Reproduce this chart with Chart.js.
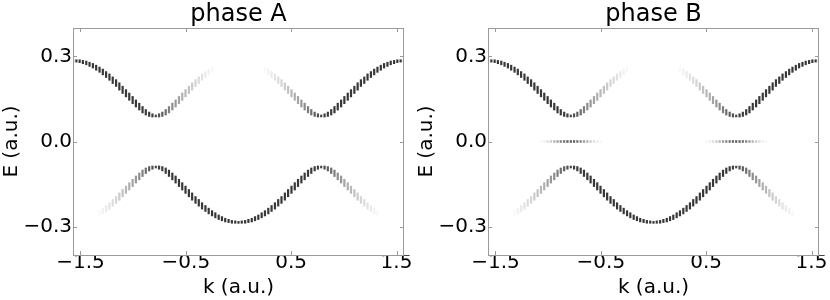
<!DOCTYPE html>
<html>
<head>
<meta charset="utf-8">
<script src="https://cdn.jsdelivr.net/npm/chart.js@4.4.0/dist/chart.umd.min.js"></script>
<style>
  body { margin: 0; background: #fff; }
  .row { display: flex; width: 830px; height: 300px; }
  .panel { position: relative; width: 415px; height: 300px; }
</style>
</head>
<body>
<div class="row">
  <div class="panel"><canvas id="chartA"></canvas></div>
  <div class="panel"><canvas id="chartB"></canvas></div>
</div>
<script>
// momentum samples (a.u.)
const kValues = [
  -1.571, -1.539, -1.508, -1.477, -1.445, -1.414, -1.382, -1.351, -1.319, -1.288,
  -1.257, -1.225, -1.194, -1.162, -1.131, -1.100, -1.068, -1.037, -1.005, -0.974,
  -0.942, -0.911, -0.880, -0.848, -0.817, -0.785, -0.754, -0.723, -0.691, -0.660,
  -0.628, -0.597, -0.565, -0.534, -0.503, -0.471, -0.440, -0.408, -0.377, -0.346,
  -0.314, -0.283, -0.251, -0.220, -0.188, -0.157, -0.126, -0.094, -0.063, -0.031,
  0.000,
  0.031, 0.063, 0.094, 0.126, 0.157, 0.188, 0.220, 0.251, 0.283, 0.314,
  0.346, 0.377, 0.408, 0.440, 0.471, 0.503, 0.534, 0.565, 0.597, 0.628,
  0.660, 0.691, 0.723, 0.754, 0.785, 0.817, 0.848, 0.880, 0.911, 0.942,
  0.974, 1.005, 1.037, 1.068, 1.100, 1.131, 1.162, 1.194, 1.225, 1.257,
  1.288, 1.319, 1.351, 1.382, 1.414, 1.445, 1.477, 1.508, 1.539, 1.571
];

// upper band energy
const upperEnergy = [
  0.285, 0.284, 0.283, 0.280, 0.277, 0.272, 0.267, 0.260, 0.253, 0.245,
  0.236, 0.227, 0.216, 0.206, 0.194, 0.182, 0.170, 0.158, 0.146, 0.134,
  0.123, 0.112, 0.103, 0.096, 0.092, 0.090, 0.092, 0.096, 0.103, 0.112,
  0.123, 0.134, 0.146, 0.158, 0.170, 0.182, 0.194, 0.206, 0.216, 0.227,
  0.236, 0.245, 0.253, 0.260, 0.267, 0.272, 0.277, 0.280, 0.283, 0.284,
  0.285,
  0.284, 0.283, 0.280, 0.277, 0.272, 0.267, 0.260, 0.253, 0.245, 0.236,
  0.227, 0.216, 0.206, 0.194, 0.182, 0.170, 0.158, 0.146, 0.134, 0.123,
  0.112, 0.103, 0.096, 0.092, 0.090, 0.092, 0.096, 0.103, 0.112, 0.123,
  0.134, 0.146, 0.158, 0.170, 0.182, 0.194, 0.206, 0.216, 0.227, 0.236,
  0.245, 0.253, 0.260, 0.267, 0.272, 0.277, 0.280, 0.283, 0.284, 0.285
];

// lower band energy
const lowerEnergy = [
  -0.285, -0.284, -0.283, -0.280, -0.277, -0.272, -0.267, -0.260, -0.253, -0.245,
  -0.236, -0.227, -0.216, -0.206, -0.194, -0.182, -0.170, -0.158, -0.146, -0.134,
  -0.123, -0.112, -0.103, -0.096, -0.092, -0.090, -0.092, -0.096, -0.103, -0.112,
  -0.123, -0.134, -0.146, -0.158, -0.170, -0.182, -0.194, -0.206, -0.216, -0.227,
  -0.236, -0.245, -0.253, -0.260, -0.267, -0.272, -0.277, -0.280, -0.283, -0.284,
  -0.285,
  -0.284, -0.283, -0.280, -0.277, -0.272, -0.267, -0.260, -0.253, -0.245, -0.236,
  -0.227, -0.216, -0.206, -0.194, -0.182, -0.170, -0.158, -0.146, -0.134, -0.123,
  -0.112, -0.103, -0.096, -0.092, -0.090, -0.092, -0.096, -0.103, -0.112, -0.123,
  -0.134, -0.146, -0.158, -0.170, -0.182, -0.194, -0.206, -0.216, -0.227, -0.236,
  -0.245, -0.253, -0.260, -0.267, -0.272, -0.277, -0.280, -0.283, -0.284, -0.285
];

// spectral weight (0..1) of each band
const upperWeight = [
  0.85, 0.85, 0.85, 0.85, 0.85, 0.85, 0.85, 0.85, 0.85, 0.85,
  0.85, 0.85, 0.85, 0.85, 0.85, 0.85, 0.85, 0.85, 0.85, 0.85,
  0.85, 0.85, 0.84, 0.83, 0.81, 0.78, 0.74, 0.69, 0.62, 0.55,
  0.49, 0.44, 0.39, 0.34, 0.30, 0.26, 0.22, 0.18, 0.15, 0.12,
  0.09, 0.06, 0.03, 0, 0, 0, 0, 0, 0, 0,
  0,
  0, 0, 0, 0, 0, 0, 0, 0.03, 0.06, 0.09,
  0.12, 0.15, 0.18, 0.22, 0.26, 0.30, 0.34, 0.39, 0.44, 0.49,
  0.55, 0.62, 0.69, 0.74, 0.78, 0.81, 0.83, 0.84, 0.85, 0.85,
  0.85, 0.85, 0.85, 0.85, 0.85, 0.85, 0.85, 0.85, 0.85, 0.85,
  0.85, 0.85, 0.85, 0.85, 0.85, 0.85, 0.85, 0.85, 0.85, 0.85
];

const lowerWeight = [
  0, 0, 0, 0, 0, 0, 0, 0, 0.03, 0.06,
  0.09, 0.12, 0.15, 0.18, 0.22, 0.26, 0.30, 0.34, 0.39, 0.44,
  0.49, 0.55, 0.62, 0.69, 0.74, 0.78, 0.81, 0.83, 0.84, 0.85,
  0.85, 0.85, 0.85, 0.85, 0.85, 0.85, 0.85, 0.85, 0.85, 0.85,
  0.85, 0.85, 0.85, 0.85, 0.85, 0.85, 0.85, 0.85, 0.85, 0.85,
  0.85,
  0.85, 0.85, 0.85, 0.85, 0.85, 0.85, 0.85, 0.85, 0.85, 0.85,
  0.85, 0.85, 0.85, 0.85, 0.85, 0.85, 0.85, 0.85, 0.85, 0.85,
  0.85, 0.84, 0.83, 0.81, 0.78, 0.74, 0.69, 0.62, 0.55, 0.49,
  0.44, 0.39, 0.34, 0.30, 0.26, 0.22, 0.18, 0.15, 0.12, 0.09,
  0.06, 0.03, 0, 0, 0, 0, 0, 0, 0, 0
];

// phase B: zero-energy states
const zeroK = [
  -1.068, -1.037, -1.005, -0.974, -0.942, -0.911, -0.880, -0.848, -0.817, -0.785,
  -0.754, -0.723, -0.691, -0.660, -0.628, -0.597, -0.565, -0.534, -0.503,
  0.503, 0.534, 0.565, 0.597, 0.628, 0.660, 0.691, 0.723, 0.754, 0.785,
  0.817, 0.848, 0.880, 0.911, 0.942, 0.974, 1.005, 1.037, 1.068
];
const zeroEnergy = [
  0, 0, 0, 0, 0, 0, 0, 0, 0, 0, 0, 0, 0, 0, 0, 0, 0, 0, 0,
  0, 0, 0, 0, 0, 0, 0, 0, 0, 0, 0, 0, 0, 0, 0, 0, 0, 0, 0
];
const zeroWeight = [
  0.04, 0.08, 0.14, 0.22, 0.32, 0.42, 0.52, 0.60, 0.66, 0.68,
  0.66, 0.60, 0.52, 0.42, 0.32, 0.22, 0.14, 0.08, 0.04,
  0.04, 0.08, 0.14, 0.22, 0.32, 0.42, 0.52, 0.60, 0.66, 0.68,
  0.66, 0.60, 0.52, 0.42, 0.32, 0.22, 0.14, 0.08, 0.04
];

const kTicks = [-1.5, -0.5, 0.5, 1.5];
const eTicks = [-0.3, 0.0, 0.3];
const kMin = kValues[0];
const kMax = kValues[kValues.length - 1];
const eMin = -0.4;
const eMax = 0.4;

Chart.defaults.font.family = "'DejaVu Sans', sans-serif";
Chart.defaults.color = "#000";

function toPoints(ks, es, ws) {
  return ks.map((k, i) => ({ x: k, y: es[i], w: ws[i] }));
}

// taller marks where the band is steep
function blobRadius(ctx) {
  const data = ctx.dataset.data;
  const i = ctx.dataIndex;
  const a = data[Math.max(i - 1, 0)];
  const b = data[Math.min(i + 1, data.length - 1)];
  if (!a || !b || a.x === b.x) return 1.3;
  const slope = Math.abs((b.y - a.y) / (b.x - a.x));
  return 1.3 + slope * 7;
}

function blobColor(ctx) {
  const w = ctx.raw ? ctx.raw.w : 0;
  return "rgba(20,20,20," + w + ")";
}

function bandDataset(points) {
  return {
    data: points,
    pointStyle: "line",
    pointRotation: 90,
    pointRadius: blobRadius,
    pointBorderWidth: 2.2,
    pointBorderColor: blobColor,
    pointBackgroundColor: blobColor,
    showLine: false,
  };
}

function fmt(v) {
  return (v < 0 ? "\u2212" : "") + Math.abs(v).toFixed(1);
}

// axes box, inward ticks and the panel title centred over the plot
const framePlugin = {
  id: "frame",
  afterDatasetsDraw(chart, args, opts) {
    const { ctx, chartArea: a, scales } = chart;
    ctx.save();
    ctx.strokeStyle = "#9a9a9a";
    ctx.lineWidth = 1;
    ctx.strokeRect(a.left + 0.5, a.top + 0.5, a.right - a.left - 1, a.bottom - a.top);
    ctx.beginPath();
    kTicks.forEach((v) => {
      const px = Math.round(scales.x.getPixelForValue(v)) + 0.5;
      ctx.moveTo(px, a.top);
      ctx.lineTo(px, a.top + 4);
      ctx.moveTo(px, a.bottom);
      ctx.lineTo(px, a.bottom - 4);
    });
    eTicks.forEach((v) => {
      const py = Math.round(scales.y.getPixelForValue(v)) + 0.5;
      ctx.moveTo(a.left, py);
      ctx.lineTo(a.left + 4, py);
      ctx.moveTo(a.right, py);
      ctx.lineTo(a.right - 4, py);
    });
    ctx.stroke();

    ctx.fillStyle = "#000";
    ctx.font = "24px 'DejaVu Sans', sans-serif";
    ctx.textAlign = "center";
    ctx.textBaseline = "alphabetic";
    ctx.fillText(opts.text, (a.left + a.right) / 2, 21);
    ctx.restore();
  },
};

function makeChart(id, title, datasets) {
  const ctx = document.getElementById(id).getContext("2d");
  return new Chart(ctx, {
    type: "scatter",
    data: { datasets: datasets },
    options: {
      responsive: true,
      maintainAspectRatio: false,
      animation: false,
      layout: { padding: { left: 0, right: 11, top: 28, bottom: 0 } },
      plugins: {
        legend: { display: false },
        tooltip: { enabled: false },
        title: { display: false },
        frame: { text: title },
      },
      scales: {
        x: {
          type: "linear",
          min: kMin,
          max: kMax,
          grid: { display: false, drawTicks: false },
          border: { display: false },
          afterBuildTicks: (scale) => {
            scale.ticks = kTicks.map((v) => ({ value: v }));
          },
          afterFit: (scale) => {
            scale.height = 45;
          },
          ticks: {
            font: { size: 20, lineHeight: 1 },
            padding: -2,
            maxRotation: 0,
            callback: (v) => fmt(v),
          },
          title: {
            display: true,
            text: "k (a.u.)",
            font: { size: 20, lineHeight: 1.2 },
            padding: 0,
          },
        },
        y: {
          type: "linear",
          min: eMin,
          max: eMax,
          grid: { display: false, drawTicks: false },
          border: { display: false },
          afterBuildTicks: (scale) => {
            scale.ticks = eTicks.map((v) => ({ value: v }));
          },
          afterFit: (scale) => {
            scale.width = 73;
          },
          ticks: {
            font: { size: 20 },
            padding: 1,
            callback: (v) => fmt(v),
          },
          title: {
            display: true,
            text: "E (a.u.)",
            font: { size: 20, lineHeight: 1.2 },
            padding: 0,
          },
        },
      },
    },
    plugins: [framePlugin],
  });
}

makeChart("chartA", "phase A", [
  bandDataset(toPoints(kValues, upperEnergy, upperWeight)),
  bandDataset(toPoints(kValues, lowerEnergy, lowerWeight)),
]);

makeChart("chartB", "phase B", [
  bandDataset(toPoints(kValues, upperEnergy, upperWeight)),
  bandDataset(toPoints(kValues, lowerEnergy, lowerWeight)),
  bandDataset(toPoints(zeroK, zeroEnergy, zeroWeight)),
]);
</script>
</body>
</html>
